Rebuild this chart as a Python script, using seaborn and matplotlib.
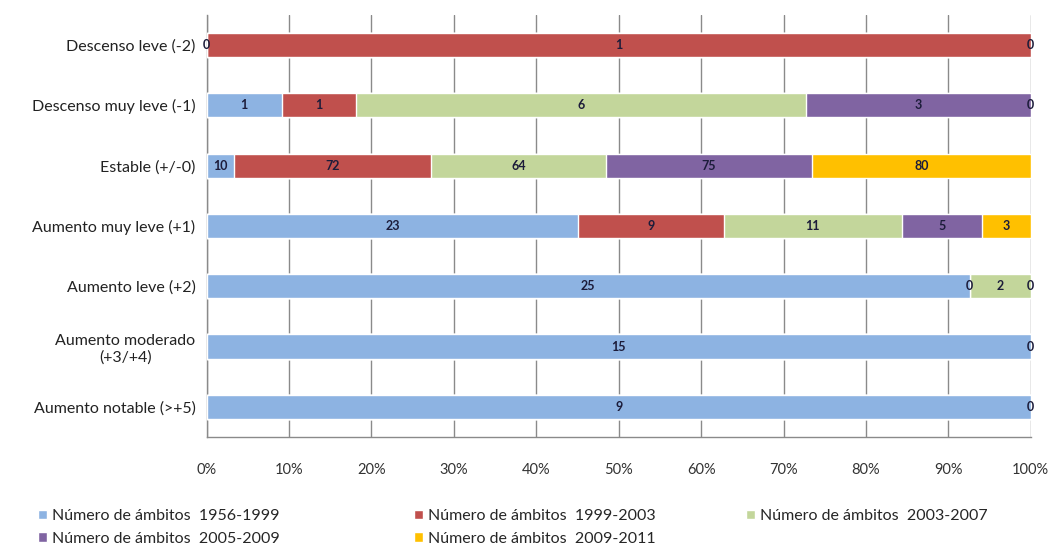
import numpy as np
import pandas as pd
import matplotlib.pyplot as plt
import seaborn as sns
from matplotlib.patches import Patch

# Data (NaN = segment without label in the original)
categories = ["Descenso leve (-2)", "Descenso muy leve (-1)", "Estable (+/-0)",
              "Aumento muy leve (+1)", "Aumento leve (+2)",
              "Aumento moderado\n(+3/+4)", "Aumento notable (>+5)"]
series_names = ["Número de ámbitos  1956-1999", "Número de ámbitos  1999-2003",
                "Número de ámbitos  2003-2007", "Número de ámbitos  2005-2009",
                "Número de ámbitos  2009-2011"]
s1956 = [0, 1, 10, 23, 25, 15, 9]
s1999 = [1, 1, 72, 9, 0, np.nan, np.nan]
s2003 = [np.nan, 6, 64, 11, 2, np.nan, np.nan]
s2005 = [np.nan, 3, 75, 5, np.nan, np.nan, np.nan]
s2009 = [0, 0, 80, 3, 0, 0, 0]
colors = ["#8DB3E2", "#C0504D", "#C3D69B", "#8064A2", "#FFC000"]

df = pd.DataFrame({n: v for n, v in zip(series_names, [s1956, s1999, s2003, s2005, s2009])},
                  index=categories)
share = df.fillna(0).div(df.fillna(0).sum(axis=1), axis=0) * 100
cum = share.cumsum(axis=1)

sns.set_style("white")
plt.rcParams["font.family"] = ["Lato", "DejaVu Sans"]

fig = plt.figure(figsize=(10.54, 5.51), dpi=100)
ax = fig.add_axes([0.196, 0.207, 0.782, 0.766])

# draw cumulative bars from the back (100%) to the front
for i in range(len(series_names) - 1, -1, -1):
    plot_df = pd.DataFrame({"cat": categories, "val": cum.iloc[:, i].values})
    sns.barplot(data=plot_df, x="val", y="cat", orient="h", color=colors[i],
                width=0.4, saturation=1, ax=ax, zorder=3)

# data labels
for i, name in enumerate(series_names):
    left = cum.iloc[:, i] - share.iloc[:, i]
    for j, cat in enumerate(categories):
        v = df.loc[cat, name]
        if np.isnan(v):
            continue
        xpos = left.iloc[j] + share.iloc[j, i] / 2
        ax.text(xpos, j, f"{int(v)}", ha="center", va="center", fontsize=9,
                fontweight="bold", color="#1c1c3a", zorder=5)

ax.set_xlim(0, 100)
ax.set_ylim(len(categories) - 0.5, -0.5)
ax.set_xticks(np.arange(0, 101, 10))
ax.set_xticklabels([f"{t}%" for t in range(0, 101, 10)], fontsize=10.5, color="#333333")
ax.xaxis.grid(True, color="#8a8a8a", linewidth=1, zorder=0)
ax.set_axisbelow(True)
ax.set_xlabel("")
ax.set_ylabel("")
ax.tick_params(axis="y", length=0, labelsize=11.5, labelcolor="#222222", pad=8)
for lbl in ax.get_yticklabels():
    lbl.set_multialignment("center")
ax.set_yticks(np.arange(-0.5, len(categories), 1), minor=True)
ax.tick_params(axis="y", which="minor", length=5, color="#8a8a8a", direction="out")
ax.tick_params(axis="x", length=5, color="#8a8a8a", direction="out", pad=14)
for s in ["top", "right"]:
    ax.spines[s].set_visible(False)
for s in ["left", "bottom"]:
    ax.spines[s].set_color("#8a8a8a")
    ax.spines[s].set_linewidth(1)

# legend: three columns placed like the original (row-wise order)
handles = [Patch(facecolor=c, label=n) for c, n in zip(colors, series_names)]
columns = [[0, 3], [1, 4], [2]]
col_x = [0.036, 0.393, 0.708]
for cols, x in zip(columns, col_x):
    fig.legend([handles[k] for k in cols], [series_names[k] for k in cols],
               loc="upper left", bbox_to_anchor=(x, 0.076), ncol=1, frameon=False,
               fontsize=11.5, handlelength=0.55, handleheight=0.55, handletextpad=0.3,
               labelspacing=0.55, borderpad=0, borderaxespad=0)

fig.savefig("out.png", dpi=100)
